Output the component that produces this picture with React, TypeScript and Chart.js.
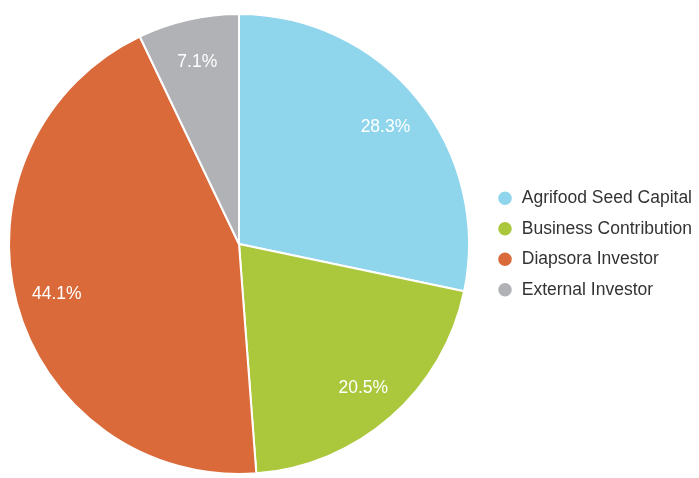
import React, { useEffect, useRef } from "react";
import { Chart, registerables } from "chart.js";

Chart.register(...registerables);

const categories = ["Agrifood Seed Capital", "Business Contribution", "Diapsora Investor", "External Investor"];
const values = [28.3, 20.5, 44.1, 7.1];
const colors = ["#8fd5ec", "#abc83c", "#db6a3a", "#b0b2b6"];

const FONT = "'Liberation Sans', Arial, sans-serif";

const pieLabels = {
  id: "pieLabels",
  afterDatasetsDraw(chart: any) {
    const ctx = chart.ctx;
    const meta = chart.getDatasetMeta(0);
    const data = chart.data.datasets[0].data as number[];
    ctx.save();
    ctx.font = `17.5px ${FONT}`;
    ctx.fillStyle = "#ffffff";
    ctx.textAlign = "center";
    ctx.textBaseline = "middle";
    meta.data.forEach((arc: any, i: number) => {
      const { x, y, startAngle, endAngle, outerRadius } = arc.getProps(
        ["x", "y", "startAngle", "endAngle", "outerRadius"],
        true
      );
      const mid = (startAngle + endAngle) / 2;
      const r = outerRadius * 0.82;
      ctx.fillText(data[i].toFixed(1) + "%", x + Math.cos(mid) * r, y + Math.sin(mid) * r + 2);
    });
    ctx.restore();
  },
};

export default function App() {
  const ref = useRef<HTMLCanvasElement | null>(null);
  useEffect(() => {
    if (!ref.current) return;
    const chart = new Chart(ref.current, {
      type: "pie",
      data: {
        labels: categories,
        datasets: [
          {
            data: values,
            backgroundColor: colors,
            borderColor: "#ffffff",
            borderWidth: 2,
          },
        ],
      },
      options: {
        responsive: false,
        animation: false,
        layout: { padding: { left: 0, right: -3, top: 13, bottom: 3 } },
        plugins: {
          tooltip: { enabled: false },
          legend: {
            position: "right",
            labels: {
              usePointStyle: true,
              pointStyle: "circle",
              boxWidth: 16,
              boxHeight: 11,
              padding: 13,
              color: "#333333",
              font: { size: 17.5, family: FONT },
            },
          },
        },
      },
      plugins: [pieLabels],
    });
    return () => chart.destroy();
  }, []);
  return (
    <div style={{ position: "fixed", left: 0, top: 0, width: 699, height: 478, background: "#fff", overflow: "hidden" }}>
      <canvas ref={ref} width={705} height={478} style={{ position: "absolute", left: -6, top: 0 }} />
    </div>
  );
}
